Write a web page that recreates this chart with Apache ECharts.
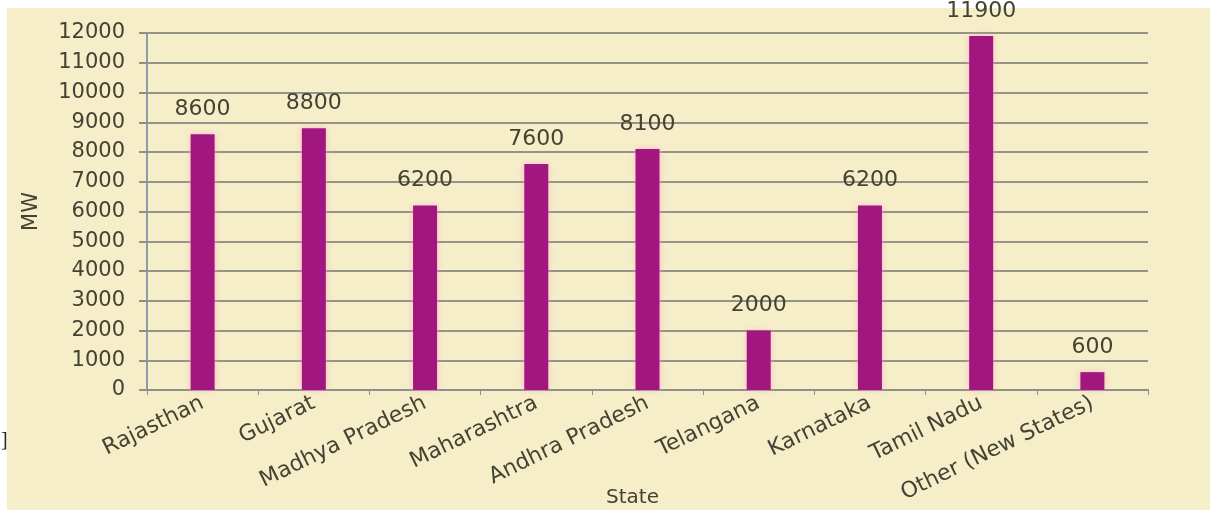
<!DOCTYPE html>
<html>
<head>
<meta charset="utf-8">
<script src="https://cdn.jsdelivr.net/npm/echarts@6/dist/echarts.min.js"></script>
<style>
html,body{margin:0;padding:0;background:#ffffff;}
#chart{width:1210px;height:511px;}
</style>
</head>
<body>
<div id="chart"></div>
<script>
var categories = ["Rajasthan","Gujarat","Madhya Pradesh","Maharashtra","Andhra Pradesh","Telangana","Karnataka","Tamil Nadu","Other (New States)"];
var values = [8600, 8800, 6200, 7600, 8100, 2000, 6200, 11900, 600];
var yMin = 0, yMax = 12000, yStep = 1000;

var textColor = '#434334';
var fontFam = 'DejaVu Sans, Verdana, sans-serif';
var chart = echarts.init(document.getElementById('chart'), null, {renderer:'canvas'});
chart.setOption({
  backgroundColor: '#ffffff',
  animation: false,
  graphic: [
    {type:'rect', z:-10, shape:{x:7,y:8,width:1203,height:502}, style:{fill:'#f6eec9'}},
    {type:'text', left:1, top:431, style:{text:']', fill:'#222', font:'20px "Liberation Serif", serif'}}
  ],
  grid: {left:147, right:62, top:33, bottom:121, containLabel:false, outerBoundsMode:'none'},
  xAxis: {
    type:'category',
    data: categories,
    name:'State',
    nameLocation:'middle',
    nameGap:98,
    nameMoveOverlap:false,
    nameTextStyle:{color:textColor, fontSize:20, fontFamily:fontFam, padding:[0,30,0,0]},
    axisLine:{show:true, lineStyle:{color:'#8f9188', width:2}},
    axisTick:{show:true, length:5, lineStyle:{color:'#8f9188', width:1}},
    axisLabel:{color:textColor, fontSize:22, fontFamily:fontFam, rotate:26, interval:0, margin:12},
    splitLine:{show:false}
  },
  yAxis: {
    type:'value',
    min:yMin, max:yMax, interval:yStep,
    name:'MW',
    nameLocation:'middle',
    nameGap:105,
    nameRotate:90,
    nameMoveOverlap:false,
    nameTextStyle:{color:textColor, fontSize:21, fontFamily:fontFam},
    axisLine:{show:true, lineStyle:{color:'#8d9bb0', width:2}},
    axisTick:{show:true, length:8, lineStyle:{color:'#8f9188', width:2}},
    axisLabel:{color:textColor, fontSize:21, fontFamily:fontFam, margin:22, formatter:function(v){return String(v);}},
    splitLine:{show:true, lineStyle:{color:'#939487', width:2}}
  },
  series: [{
    type:'bar',
    data: values,
    barWidth:24,
    itemStyle:{color:'#a2177f', shadowColor:'rgba(255,160,200,0.7)', shadowBlur:6},
    label:{show:true, position:'top', distance:14, color:textColor, fontSize:22, fontFamily:fontFam}
  }]
});
</script>
</body>
</html>
